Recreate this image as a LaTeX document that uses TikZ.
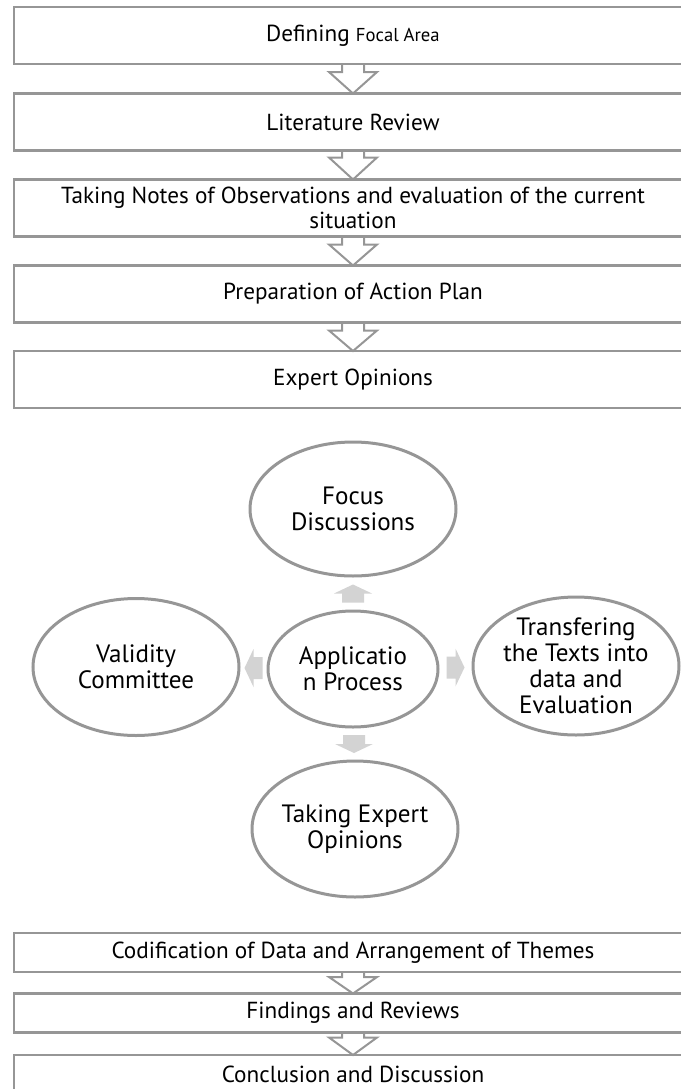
\documentclass[tikz,border=0pt]{standalone}
\usepackage{fontspec}
\setmainfont{PT Sans}
\usetikzlibrary{calc,shapes.geometric}

% one drawing unit = 0.75pt
\newlength\pxu
\setlength\pxu{0.75pt}

\definecolor{edgegray}{RGB}{150,150,150}
\definecolor{blockfill}{RGB}{211,211,211}

\tikzset{
  stagebox/.style={draw=edgegray, line width=1.9pt, rectangle, outer sep=0pt,
    inner sep=0pt, minimum width=678\pxu, minimum height=57\pxu, align=center,
    font=\fontsize{17.4}{18.75}\selectfont},
  smallbox/.style={stagebox, minimum height=39\pxu},
  hollowarrow/.style={draw=edgegray, line width=1.5pt, line join=miter},
  cyclenode/.style={draw=edgegray, line width=2.25pt, ellipse, outer sep=0pt,
    inner sep=0pt, minimum width=206\pxu, minimum height=136\pxu},
  cycletext/.style={align=center, inner sep=0pt,
    font=\fontsize{18.8}{19.6}\selectfont},
  blockarrow/.style={fill=blockfill, draw=none}
}

% hollow down arrow from the bottom of one box to the top of the next
\newcommand\hollowdown[3]{%
  \draw[hollowarrow] ($(#1.south)+(-11,0)$) -- ($(#1.south)+(-11,#3)$)
    -- ($(#1.south)+(-24,#3)$) -- (#2.north) -- ($(#1.south)+(24,#3)$)
    -- ($(#1.south)+(11,#3)$) -- ($(#1.south)+(11,0)$);
}

\begin{document}
\begin{tikzpicture}[x=0.75pt,y=-0.75pt]
\useasboundingbox (0,0) rectangle (681,1089);
\clip (0,0) rectangle (681,1089);

% upper sequence of stages
\node[stagebox] (b1) at (353,35.5) {Defining {\fontsize{14}{15}\selectfont Focal Area}};
\node[stagebox] (b2) at (353,122) {Literature Review};
\node[stagebox] (b3) at (353,208) {Taking Notes of Observations and evaluation of the current\\situation};
\node[stagebox] (b4) at (353,294) {Preparation of Action Plan};
\node[stagebox] (b5) at (353,379.5) {Expert Opinions};

\hollowdown{b1}{b2}{8}
\hollowdown{b2}{b3}{7}
\hollowdown{b3}{b4}{8}
\hollowdown{b4}{b5}{8}

% application cycle
\node[cyclenode, minimum height=134\pxu] (focus) at (353,509) {};
\node[cycletext] (focustxt) at (focus) {Focus\\Discussions};

\node[cyclenode, minimum width=170\pxu, minimum height=116\pxu] (app) at (353,669) {};
\node[cycletext] (apptxt) at (app) {Applicatio\\n Process};

\node[cyclenode, minimum height=137\pxu] (val) at (136,667) {};
\node[cycletext] (valtxt) at (val) {Validity\\Committee};

\node[cyclenode, minimum height=138\pxu] (trans) at (576,666) {};
\node[cycletext] (transtxt) at (trans) {Transfering\\the Texts into\\data and\\Evaluation};

\node[cyclenode] (take) at (355,829) {};
\node[cycletext] (taketxt) at (take) {Taking Expert\\Opinions};

% block arrows leaving the application process
\coordinate (mu) at ($(app.north)!0.5!(focus.south)$);
\fill[blockarrow] ($(mu)+(-11,9)$) -- ($(mu)+(-11,0)$) -- ($(mu)+(-19,0)$)
  -- ($(mu)+(0,-9)$) -- ($(mu)+(19,0)$) -- ($(mu)+(11,0)$) -- ($(mu)+(11,9)$) -- cycle;

\coordinate (md) at ($(app.south)!0.5!(take.north)$);
\fill[blockarrow] ($(md)+(-11,-9)$) -- ($(md)+(-11,0)$) -- ($(md)+(-19,0)$)
  -- ($(md)+(0,9)$) -- ($(md)+(19,0)$) -- ($(md)+(11,0)$) -- ($(md)+(11,-9)$) -- cycle;

\coordinate (ml) at ($(app.west)!0.5!(val.east)$);
\fill[blockarrow] ($(ml)+(9,-11)$) -- ($(ml)+(0,-11)$) -- ($(ml)+(0,-19)$)
  -- ($(ml)+(-9,0)$) -- ($(ml)+(0,19)$) -- ($(ml)+(0,11)$) -- ($(ml)+(9,11)$) -- cycle;

\coordinate (mr) at ($(app.east)!0.5!(trans.west)$);
\fill[blockarrow] ($(mr)+(-9,-11)$) -- ($(mr)+(0,-11)$) -- ($(mr)+(0,-19)$)
  -- ($(mr)+(9,0)$) -- ($(mr)+(0,19)$) -- ($(mr)+(0,11)$) -- ($(mr)+(-9,11)$) -- cycle;

% lower sequence of stages
\node[smallbox] (c1) at (353,952.5) {Codification of Data and Arrangement of Themes};
\node[smallbox] (c2) at (353,1013) {Findings and Reviews};
\node[smallbox] (c3) at (353,1074.5) {Conclusion and Discussion};

\hollowdown{c1}{c2}{5}
\hollowdown{c2}{c3}{5}
\end{tikzpicture}
\end{document}
